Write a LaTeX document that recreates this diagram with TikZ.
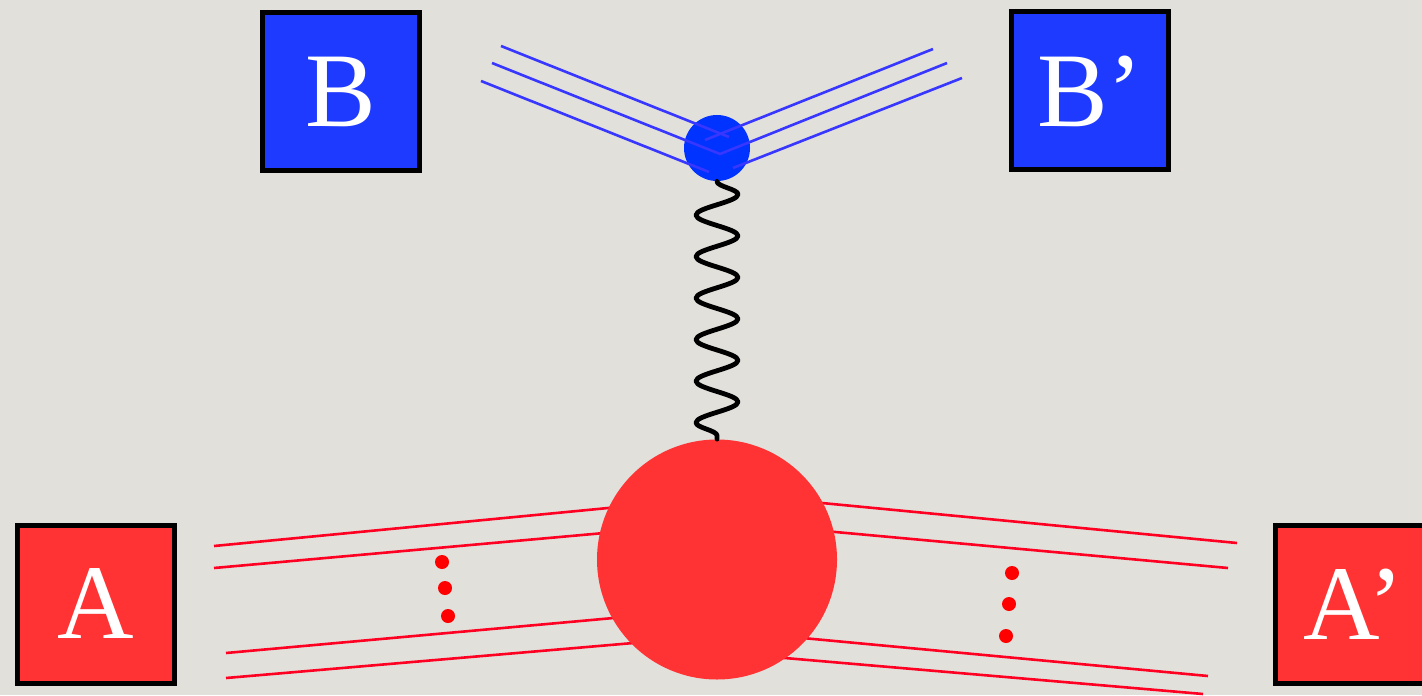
\documentclass[tikz,border=0pt]{standalone}
\usepackage{fontspec}
\setmainfont{Liberation Serif}
\usetikzlibrary{decorations.pathmorphing}
\definecolor{bg}{RGB}{226,224,219}
\definecolor{boxblue}{RGB}{30,58,255}
\definecolor{vertblue}{RGB}{0,51,255}
\definecolor{lineblue}{RGB}{55,55,255}
\definecolor{boxred}{RGB}{255,51,51}
\definecolor{linered}{RGB}{255,0,35}
\definecolor{dotred}{RGB}{255,0,0}
\begin{document}
\begin{tikzpicture}[x=0.5pt,y=-0.5pt,
  labelbox/.style={draw=black,line width=2.5pt,minimum width=78.5pt,minimum height=79pt,
    inner sep=0pt,text=white,font=\fontsize{53}{53}\selectfont},
  blob/.style={circle,draw=none,inner sep=0pt},
  redline/.style={draw=linered,line width=1.3pt},
  blueline/.style={draw=lineblue,line width=1.3pt},
  reddot/.style={circle,fill=dotred,draw=none,inner sep=0pt,minimum size=7pt},
  wave/.style={draw=black,line width=2.4pt,line join=round,line cap=round,decorate,
    decoration={snake,segment length=20.75pt,amplitude=10.5pt}}]
\useasboundingbox (0,0) rectangle (1422,695);
\fill[bg] (0,0) rectangle (1422,695);
\clip (0,0) rectangle (1422,695);

% label boxes
\node[labelbox,fill=boxblue] (B) at (341,91.5) {B};
\node[labelbox,fill=boxblue] (Bp) at (1090,91) {B’};
\node[labelbox,fill=boxred] (A) at (95.5,604) {A};
\node[labelbox,fill=boxred] (Ap) at (1354,604) {A’};

% red lines (under the red blob)
\coordinate (la1) at (214,546); \coordinate (la1e) at (660,503);
\coordinate (la2) at (214,568); \coordinate (la2e) at (660,528);
\coordinate (la3) at (226,653); \coordinate (la3e) at (680,612);
\coordinate (la4) at (226,678); \coordinate (la4e) at (680,639);
\coordinate (ra1) at (1237,543); \coordinate (ra1e) at (770,498);
\coordinate (ra2) at (1228,568); \coordinate (ra2e) at (770,526);
\coordinate (ra3) at (1208,676); \coordinate (ra3e) at (760,634);
\coordinate (ra4) at (1203,694); \coordinate (ra4e) at (750,655);
\draw[redline] (la1) -- (la1e);
\draw[redline] (la2) -- (la2e);
\draw[redline] (la3) -- (la3e);
\draw[redline] (la4) -- (la4e);
\draw[redline] (ra1) -- (ra1e);
\draw[redline] (ra2) -- (ra2e);
\draw[redline] (ra3) -- (ra3e);
\draw[redline] (ra4) -- (ra4e);

% blobs
\node[blob,fill=boxred,minimum size=120pt] (ra) at (717,559.5) {};
\node[blob,fill=vertblue,minimum size=33pt] (vb) at (717,148) {};

% photon
\draw[wave] (vb) -- (ra);

% blue lines (over the blue vertex)
\coordinate (bl1) at (501,46);  \coordinate (bl1e) at (729,137);
\coordinate (bl2) at (492,63);  \coordinate (bm) at (720,154);
\coordinate (bl3) at (481,81);  \coordinate (bl3e) at (709,172);
\coordinate (br1) at (933,49);  \coordinate (br1e) at (705,140);
\coordinate (br2) at (947,63);
\coordinate (br3) at (962,78);  \coordinate (br3e) at (733,168);
\draw[blueline] (bl1) -- (bl1e);
\draw[blueline] (bl2) -- (bm) -- (br2);
\draw[blueline] (bl3) -- (bl3e);
\draw[blueline] (br1) -- (br1e);
\draw[blueline] (br3) -- (br3e);

% dots
\node[reddot] (d1) at (442,562) {};
\node[reddot] (d2) at (445,588) {};
\node[reddot] (d3) at (448,616) {};
\node[reddot] (d4) at (1012,573) {};
\node[reddot] (d5) at (1009,604) {};
\node[reddot] (d6) at (1006,636) {};
\end{tikzpicture}
\end{document}
